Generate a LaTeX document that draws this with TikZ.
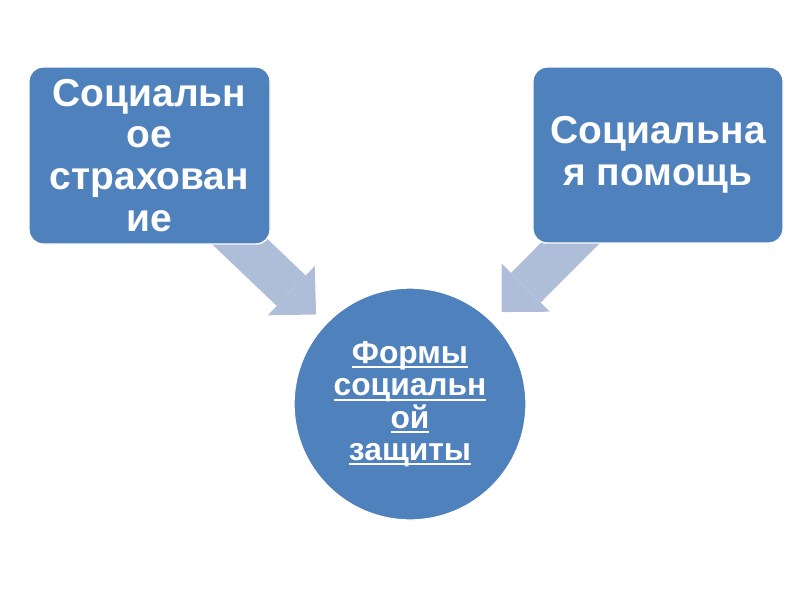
\documentclass[tikz,border=0pt]{standalone}
\usepackage{fontspec}
\setmainfont{Liberation Sans}
\usetikzlibrary{arrows.meta}
\usetikzlibrary{backgrounds}
\definecolor{boxblue}{RGB}{79,129,189}
\definecolor{arrowgray}{RGB}{175,190,216}
\newcommand{\ulword}[1]{\setbox0\hbox{#1}\rlap{\rule[-3.6pt]{\wd0}{1.4pt}}\box0}

\begin{document}
\begin{tikzpicture}[x=0.025cm, y=-0.025cm,
    box/.style={rectangle, rounded corners=10pt, fill=boxblue, draw=white, line width=1pt, inner sep=0pt,
        text=white, align=center, font=\bfseries\fontsize{27.7}{29.8}\selectfont},
    disc/.style={circle, fill=boxblue, draw=white, line width=1pt, inner sep=0pt, minimum size=5.8cm,
        text=white, align=center, font=\bfseries\fontsize{22.6}{23}\selectfont},
    flow/.style={draw=arrowgray, line width=1.05cm, shorten >=0.325cm,
        -{Triangle[width=1.7cm, length=0.86cm, line width=0pt]}}]
        \useasboundingbox (0, 0) rectangle (800, 600);

        \node[box, minimum width=6.025cm, minimum height=4.425cm] (insure) at (149.5, 155.5) {Социальн\\ое\\страхован\\ие};

        \node[box, minimum width=6.25cm, minimum height=4.4cm] (aid) at (658, 155) {Социальна\\я помощь};

        \node[disc] (forms) at (410, 404) {\ulword{Формы}\\\ulword{социальн}\\\ulword{ой}\\\ulword{защиты}};

        \begin{scope}[on background layer]
        \draw[flow] (insure.center) -- (forms);
        \draw[flow] (aid.center) -- (forms);
        \end{scope}
      \end{tikzpicture}
\end{document}
